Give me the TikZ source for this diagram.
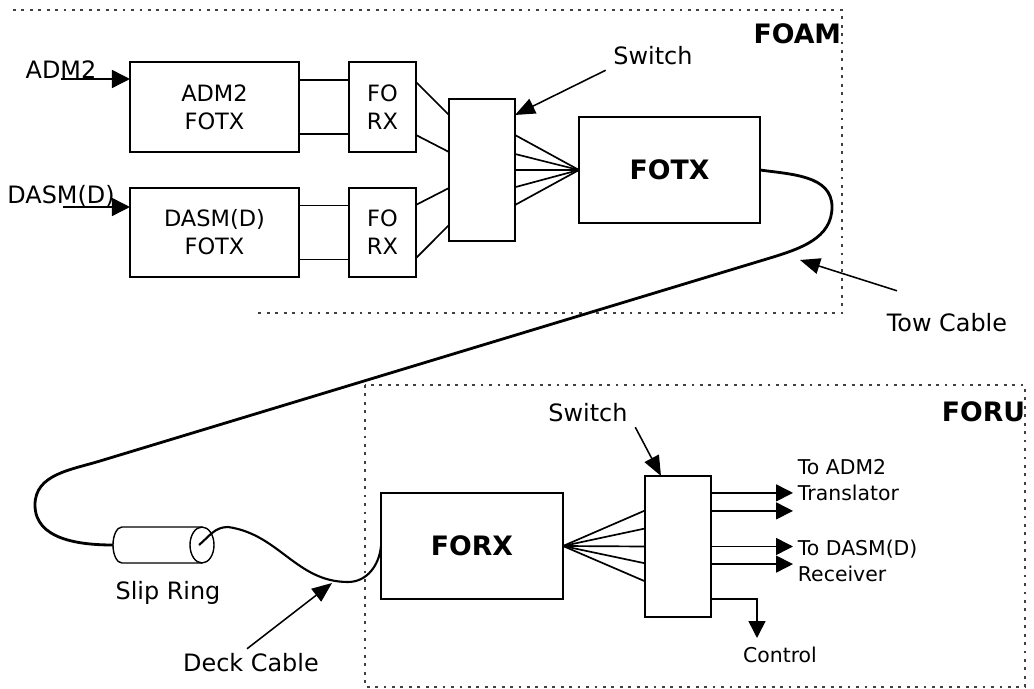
\documentclass[tikz,border=0pt]{standalone}
\usepackage{fontspec}
\setmainfont{DejaVu Sans}
\usetikzlibrary{positioning, arrows.meta, shapes.geometric}

\begin{document}
\begin{tikzpicture}[
  x=0.025cm, y=0.025cm,
  block/.style={draw, line width=1.2pt, inner sep=0pt, outer sep=0pt,
              align=center, font=\fontsize{16}{20}\selectfont},
  bigblock/.style={block, font=\fontsize{19}{22}\selectfont\bfseries},
  areaframe/.style={line width=0.8pt, black!75, dash pattern=on 2pt off 4pt},
  areatitle/.style={font=\fontsize{19}{22}\selectfont\bfseries},
  fibre/.style={line width=1.2pt},
  inarr/.style={line width=1.1pt, -{Triangle[length=4.5mm, width=4.5mm]}},
  outarr/.style={line width=1.1pt, -{Triangle[length=4.2mm, width=4.2mm]}},
  pointer/.style={line width=1.1pt, -{Triangle[length=5mm, width=4mm]}},
  cable/.style={line width=2pt},
  lbl/.style={font=\fontsize{17}{20}\selectfont},
  smalltxt/.style={font=\fontsize{14.5}{19}\selectfont, align=left}
]
  \useasboundingbox (0,0) rectangle (1034,-689);

  % area frames
  \draw[areaframe] (13,-10) -- (842,-10) -- (842,-313) -- (258,-313);
  \draw[areaframe] (365,-385) rectangle (1025,-687);
  \node[areatitle, anchor=east] (foam) at (846,-34)  {FOAM};
  \node[areatitle, anchor=east] (foru) at (1030,-412) {FORU};

  % FOAM side
  \node[block, minimum width=4.225cm, minimum height=2.25cm]
        (admfotx)  at (214.5,-107)   {ADM2\\FOTX};
  \node[block, minimum width=4.225cm, minimum height=2.225cm]
        (dasmfotx) at (214.5,-232.5) {DASM(D)\\FOTX};
  \node[block, minimum width=1.675cm, minimum height=2.25cm]
        (forxa)    at (382.5,-107)   {FO\\RX};
  \node[block, minimum width=1.675cm, minimum height=2.225cm]
        (forxb)    at (382.5,-232.5) {FO\\RX};
  \node[block, minimum width=1.65cm, minimum height=3.55cm]
        (switcha)  at (482,-170)     {};
  \node[bigblock, minimum width=4.525cm, minimum height=2.65cm]
        (fotx)     at (669.5,-170)   {FOTX};

  \node[lbl, anchor=base] (admlabel)  at (61,-79)  {ADM2};
  \node[lbl, anchor=base] (dasmlabel) at (61,-204) {DASM(D)};
  \coordinate (dasmin) at (63,-207);
  \draw[inarr] (admlabel.base) -- (admlabel.base -| admfotx.west);
  \draw[inarr] (dasmin) -- (dasmin -| dasmfotx.west);

  \foreach \dy in {0.675, -0.675} {
    \draw[fibre] ([yshift=\dy cm]admfotx.east) -- ([yshift=\dy cm]forxa.west);
    \draw[fibre] ([yshift=\dy cm]dasmfotx.east) -- ([yshift=\dy cm]forxb.west);
  }
  \draw[fibre] ([yshift=0.625cm]forxa.east)  -- ([yshift=1.375cm]switcha.west);
  \draw[fibre] ([yshift=-0.7cm]forxa.east)   -- ([yshift=0.45cm]switcha.west);
  \draw[fibre] ([yshift=0.69cm]forxb.east)   -- ([yshift=-0.45cm]switcha.west);
  \draw[fibre] ([yshift=-0.64cm]forxb.east)  -- ([yshift=-1.375cm]switcha.west);
  \foreach \dy in {0.875, 0.4, 0, -0.43, -0.875}
    \draw[fibre] ([yshift=\dy cm]switcha.east) -- (fotx.west);

  \node[lbl] (switchlabela) at (653,-56) {Switch};
  \draw[pointer] ([xshift=-2pt]switchlabela.south west)
    -- ([yshift=-0.4cm]switcha.north east);

  % FORU side
  \node[bigblock, minimum width=4.55cm, minimum height=2.65cm]
        (forx)     at (472,-546)     {FORX};
  \node[block, minimum width=1.65cm, minimum height=3.525cm]
        (switchb)  at (678,-546.5)   {};
  \foreach \dy in {0.9, 0.45, 0, -0.42, -0.87}
    \draw[fibre] (forx.east) -- ([yshift=\dy cm]switchb.west);

  \node[smalltxt, anchor=west] (toadm)  at (793,-480) {To ADM2\\Translator};
  \node[smalltxt, anchor=west] (todasm) at (793,-561) {To DASM(D)\\Receiver};
  \foreach \dy in {1.34, 0.89}
    \draw[outarr] ([yshift=\dy cm]switchb.east) -- ([yshift=\dy cm]switchb.east -| toadm.west);
  \foreach \dy in {0, -0.44}
    \draw[outarr] ([yshift=\dy cm]switchb.east) -- ([yshift=\dy cm]switchb.east -| todasm.west);

  \node[smalltxt] (control) at (780,-655) {Control};
  \coordinate (ctrltip) at (757,-638);
  \draw[outarr] ([yshift=-1.31cm]switchb.east) -| (ctrltip);

  \node[lbl] (switchlabelb) at (588,-413) {Switch};
  \draw[pointer] ([xshift=2pt]switchlabelb.south east)
    -- ([xshift=-0.425cm]switchb.north);

  % slip ring and cables
  \coordinate (ringleft) at (113,-545);
  \coordinate (ringend)  at (199,-545);
  \draw[line width=1pt, fill=white] (202,-527) -- (122,-527)
    arc[start angle=90, end angle=270, x radius=0.225cm, y radius=0.45cm]
    -- (202,-563);
  \draw[line width=1pt, fill=white] (202,-545)
    ellipse[x radius=0.3cm, y radius=0.45cm];
  \node[lbl] (slipringlabel) at (168,-593) {Slip Ring};

  \draw[cable] (fotx.east) to[out=-8, in=90] (832,-207)
    to[out=-90, in=17] (770,-258) -- (100,-461)
    to[out=197, in=90] (35,-505) to[out=-90, in=180] (ringleft);
  \draw[line width=1.5pt] (ringend) to[out=40, in=180] (228,-527)
    to[out=-8, in=180] (348,-582) to[out=0, in=-95] (forx.west);

  \node[lbl] (towlabel)  at (947,-323) {Tow Cable};
  \coordinate (towtip) at (800,-260);
  \draw[pointer] ([xshift=0.375cm, yshift=0.45cm]towlabel.north west) -- (towtip);

  \node[lbl] (decklabel) at (251,-663) {Deck Cable};
  \coordinate (decktip) at (332,-583);
  \draw[pointer] ([xshift=-0.1cm]decklabel.north) -- (decktip);
\end{tikzpicture}
\end{document}
